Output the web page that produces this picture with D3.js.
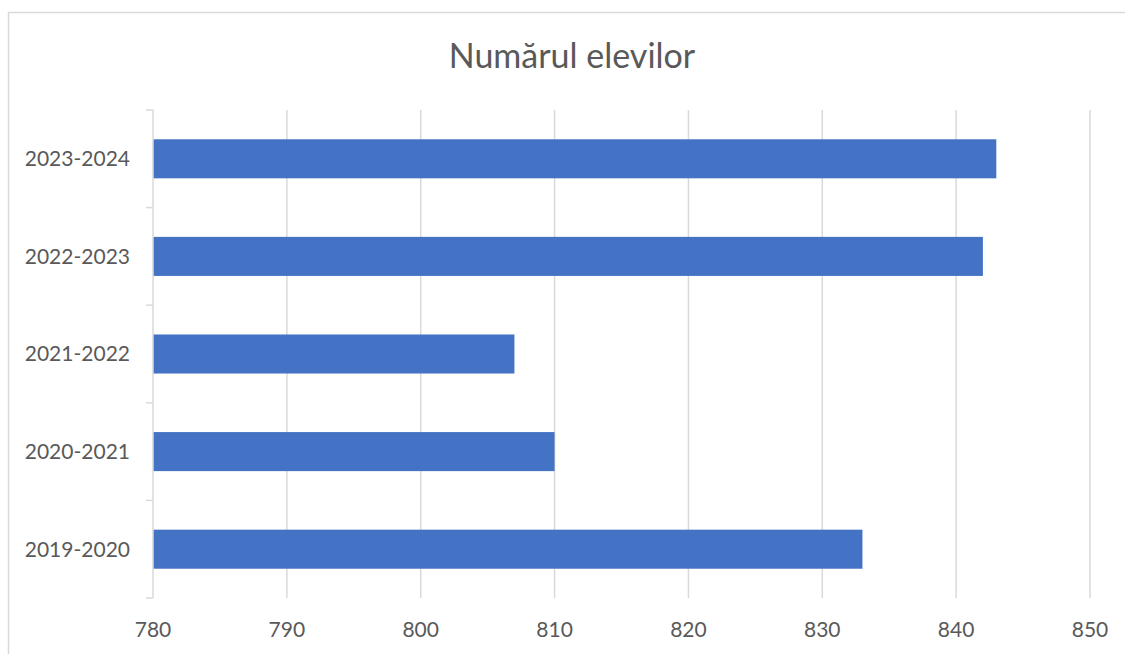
<!DOCTYPE html>
<html>
<head>
<meta charset="utf-8">
<script src="https://cdn.jsdelivr.net/npm/d3@7"></script>
<style>
  body { margin: 0; background: #fff; }
  text { font-family: Lato, "Open Sans", sans-serif; fill: #595959; }
</style>
</head>
<body>
<div class="canvas"></div>
<script>
const categories = ['2019-2020', '2020-2021', '2021-2022', '2022-2023', '2023-2024'];
const values = [833, 810, 807, 842, 843];
const xTicks = [780, 790, 800, 810, 820, 830, 840, 850];
const title = 'Numărul elevilor';

const data = categories.map((c, i) => ({ name: c, value: values[i] }));

const svg = d3.select('.canvas')
    .append('svg')
    .attr('width', 1125)
    .attr('height', 654);

// chart border
svg.append('rect')
    .attr('x', 8.5).attr('y', 12.5)
    .attr('width', 1130).attr('height', 660)
    .attr('fill', 'none')
    .attr('stroke', '#d9d9d9')
    .attr('stroke-width', 1.5);

svg.append('text')
    .attr('x', 572).attr('y', 68)
    .attr('text-anchor', 'middle')
    .style('font-size', '34px')
    .text(title);

const margin = { top: 110, left: 153 };
const graphWidth = 1090 - 153;
const graphHeight = 598 - 110;

const graph = svg.append('g')
    .attr('transform', `translate(${margin.left}, ${margin.top})`);

const x = d3.scaleLinear()
    .domain([780, 850])
    .range([0, graphWidth]);

const y = d3.scaleBand()
    .domain(categories.slice().reverse())
    .range([0, graphHeight])
    .paddingInner(0.6)
    .paddingOuter(0.3);

// gridlines
graph.selectAll('line.grid')
    .data(xTicks.slice(1))
    .enter()
    .append('line')
    .attr('class', 'grid')
    .attr('x1', d => x(d)).attr('x2', d => x(d))
    .attr('y1', 0).attr('y2', graphHeight)
    .attr('stroke', '#d9d9d9')
    .attr('stroke-width', 1.5);

graph.selectAll('rect.bar')
    .data(data)
    .enter()
    .append('rect')
    .attr('class', 'bar')
    .attr('x', x(780))
    .attr('y', d => y(d.name))
    .attr('width', d => x(d.value) - x(780))
    .attr('height', y.bandwidth())
    .attr('fill', '#4472c4');

// y axis line with ticks between categories
const bandStep = graphHeight / categories.length;
const yAxisGroup = graph.append('g');
yAxisGroup.append('line')
    .attr('x1', 0).attr('x2', 0)
    .attr('y1', 0).attr('y2', graphHeight)
    .attr('stroke', '#d9d9d9')
    .attr('stroke-width', 1.5);
yAxisGroup.selectAll('line.tick')
    .data(d3.range(categories.length + 1))
    .enter()
    .append('line')
    .attr('class', 'tick')
    .attr('x1', -7).attr('x2', 0)
    .attr('y1', i => i * bandStep).attr('y2', i => i * bandStep)
    .attr('stroke', '#d9d9d9')
    .attr('stroke-width', 1.5);

yAxisGroup.selectAll('text')
    .data(categories)
    .enter()
    .append('text')
    .attr('x', -23)
    .attr('y', d => y(d) + y.bandwidth() / 2)
    .attr('dy', '0.35em')
    .attr('text-anchor', 'end')
    .style('font-size', '21px')
    .text(d => d);

graph.append('g')
    .selectAll('text')
    .data(xTicks)
    .enter()
    .append('text')
    .attr('x', d => x(d))
    .attr('y', graphHeight + 39)
    .attr('text-anchor', 'middle')
    .style('font-size', '21px')
    .text(d => d);
</script>
</body>
</html>
